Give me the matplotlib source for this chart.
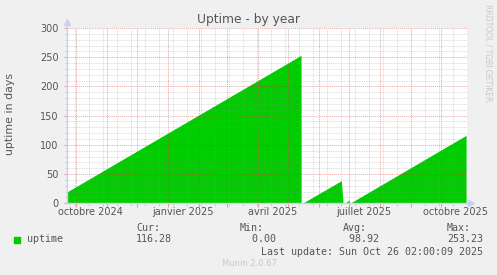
import pandas as pd
import matplotlib
matplotlib.use("Agg")
import matplotlib.pyplot as plt
import matplotlib.dates as mdates
from matplotlib.ticker import MultipleLocator, NullFormatter, FixedLocator

# uptime samples (days), breakpoints
up_dates = ["2024-09-22 12:00", "2025-05-14 06:00", "2025-05-14 08:00",
            "2025-05-15 12:00", "2025-06-23 12:00", "2025-06-25 06:00",
            "2025-06-27 00:00", "2025-07-01 06:00", "2025-07-01 18:00",
            "2025-07-02 00:00", "2025-10-26 02:00"]
up_values = [19.5, 253.23, 0.0,
             0.0, 38.7, 0.0,
             0.0, 5.5, 0.0,
             0.0, 116.28]

month_labels = ["octobre 2024", "janvier 2025", "avril 2025",
                "juillet 2025", "octobre 2025"]
label_dates = ["2024-10-16", "2025-01-16", "2025-04-16",
               "2025-07-16", "2025-10-16"]

stats_names = ["Cur:", "Min:", "Avg:", "Max:"]
stats_values = ["116.28", "  0.00", " 98.92", "253.23"]
last_update = "Last update: Sun Oct 26 02:00:09 2025"

BG = "#F0F0F0"
TXT = "#555555"
GREEN = "#00CC00"
AXIS = "#C8D0F4"

W, H = 497, 275
fig = plt.figure(figsize=(W / 100, H / 100), dpi=100, facecolor=BG)
ax = fig.add_axes([67 / W, 1 - 203.3 / H, 399.5 / W, 175.3 / H])
ax.set_facecolor("white")

dates = pd.to_datetime(up_dates)
ax.fill_between(dates, up_values, 0, color=GREEN, linewidth=0, zorder=1)

ax.set_xlim(pd.Timestamp("2024-09-22 12:00"), pd.Timestamp("2025-10-26 12:00"))
ax.set_ylim(0, 300)

# y grid
ax.yaxis.set_major_locator(MultipleLocator(50))
ax.yaxis.set_minor_locator(MultipleLocator(10))
# x grid: months major, every other monday minor
ax.xaxis.set_major_locator(mdates.MonthLocator())
ax.xaxis.set_major_formatter(NullFormatter())
minor_x = pd.date_range("2024-09-30", "2025-10-26", freq="14D")
ax.xaxis.set_minor_locator(FixedLocator(mdates.date2num(minor_x)))

ax.grid(which="minor", color="#909090", alpha=0.4, linestyle=(0, (1, 1)),
        linewidth=0.6, zorder=2)
ax.grid(which="major", color="#D04040", alpha=0.45, linestyle=(0, (1, 1)),
        linewidth=0.7, zorder=3)
ax.set_axisbelow(False)

ax.tick_params(axis="y", which="major", length=2, color="#E8A0A0", labelsize=7,
               labelcolor=TXT, pad=4)
ax.tick_params(axis="y", which="minor", length=1.5, color="#C8C8C8")
ax.tick_params(axis="x", which="major", length=3, color="#E8A0A0", direction="out")
ax.tick_params(axis="x", which="minor", length=2, color="#C8C8C8", direction="out")

for s in ["top", "right"]:
    ax.spines[s].set_visible(False)
for s in ["left", "bottom"]:
    ax.spines[s].set_color(AXIS)
    ax.spines[s].set_linewidth(1)
    ax.spines[s].set_zorder(4)

# axis arrows
ax.plot([0, 0], [1, 1.03], color=AXIS, lw=1, transform=ax.transAxes, clip_on=False)
ax.plot([0], [1.035], marker="^", ms=4, color=AXIS, transform=ax.transAxes, clip_on=False)
ax.plot([1, 1.01], [0, 0], color=AXIS, lw=1, transform=ax.transAxes, clip_on=False)
ax.plot([1.012], [0], marker=">", ms=4, color=AXIS, transform=ax.transAxes, clip_on=False)

for lab, d in zip(month_labels, label_dates):
    ax.text(pd.Timestamp(d), -0.05, lab, transform=ax.get_xaxis_transform(),
            ha="center", va="center", fontsize=7, color=TXT)

fig.text(249 / W, 1 - 19 / H, "Uptime - by year", ha="center", va="center",
         fontsize=8.8, color=TXT)
fig.text(10 / W, 1 - 114 / H, "uptime in days", ha="center", va="center",
         rotation=90, fontsize=7.9, color=TXT)
fig.text(488 / W, 1 - 53 / H, "RRDTOOL / TOBI OETIKER", ha="center", va="center",
         rotation=270, fontsize=5.5, color="#C8C8C8")

mono = dict(family="DejaVu Sans Mono", fontsize=7.2, color=TXT, va="center")
fig.patches.append(plt.Rectangle((14 / W, 1 - 242.5 / H), 6 / W, 6 / H,
                                 transform=fig.transFigure, color=GREEN))
fig.text(27 / W, 1 - 239.5 / H, "uptime", ha="left", **mono)
stat_x = [136, 240, 343, 447]
for x, n, v in zip(stat_x, stats_names, stats_values):
    fig.text(x / W, 1 - 227.7 / H, n, ha="left", **mono)
    fig.text(x / W, 1 - 239.5 / H, v, ha="left", **mono)
fig.text(483 / W, 1 - 251.7 / H, last_update, ha="right", **mono)
fig.text(249 / W, 1 - 264 / H, "Munin 2.0.67", ha="center", va="center",
         fontsize=6, color="#C8C8C8")

fig.savefig("out.png", dpi=100, facecolor=BG)
